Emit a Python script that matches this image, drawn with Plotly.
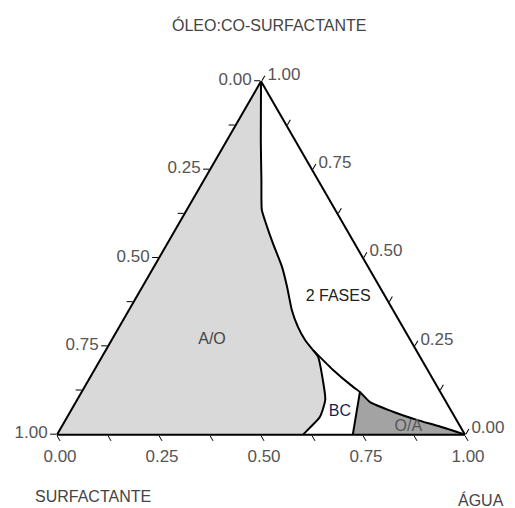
import plotly.graph_objects as go

# Ternary values: a = ÓLEO:CO-SURFACTANTE (top), c = ÁGUA (bottom-right), b = SURFACTANTE (bottom-left)
# Boundary of the 2-phase region (from apex down to the junction point)
main_a = [1.000, 0.833, 0.720, 0.636, 0.607, 0.542, 0.475, 0.418, 0.353, 0.305, 0.268, 0.240]
main_c = [0.000, 0.083, 0.141, 0.184, 0.206, 0.258, 0.314, 0.355, 0.399, 0.438, 0.474, 0.507]

# Lower boundary of 2-phase region (junction -> water corner)
low_a = [0.240, 0.184, 0.136, 0.121, 0.093, 0.065, 0.042, 0.023, 0.000]
low_c = [0.507, 0.584, 0.657, 0.682, 0.720, 0.791, 0.861, 0.927, 1.000]

# Boundary between A/O and BC (junction -> base)
bc_a = [0.240, 0.220, 0.155, 0.099, 0.051, 0.020, 0.000]
bc_c = [0.507, 0.530, 0.574, 0.608, 0.619, 0.610, 0.603]

# Boundary between BC and O/A
oa_a = [0.121, 0.000]
oa_c = [0.682, 0.725]

# Region labels
lab_text = ["A/O", "2 FASES", "BC", "O/A"]
lab_a = [0.268, 0.390, 0.065, 0.022]
lab_c = [0.246, 0.494, 0.661, 0.850]

tick_vals = [0, 0.125, 0.25, 0.375, 0.5, 0.625, 0.75, 0.875, 1.0]
tick_text = ["1.00", "", "0.75", "", "0.50", "", "0.25", "", "0.00"]

FONT = "Liberation Sans, Arial"


def bvals(a, c):
    return [round(1 - x - y, 4) for x, y in zip(a, c)]


fig = go.Figure()

# A/O region (light grey)
ao_a = main_a + bc_a[1:] + [0.0, 1.0]
ao_c = main_c + bc_c[1:] + [0.0, 0.0]
fig.add_trace(go.Scatterternary(a=ao_a, b=bvals(ao_a, ao_c), c=ao_c, mode="lines",
                                fill="toself", fillcolor="#d9d9d9",
                                line=dict(width=0, color="#d9d9d9"), hoverinfo="skip"))

# O/A region (dark grey)
oar_a = low_a[3:] + [oa_a[1], oa_a[0]]
oar_c = low_c[3:] + [oa_c[1], oa_c[0]]
fig.add_trace(go.Scatterternary(a=oar_a, b=bvals(oar_a, oar_c), c=oar_c, mode="lines",
                                fill="toself", fillcolor="#a3a3a3",
                                line=dict(width=0, color="#a3a3a3"), hoverinfo="skip"))

# Boundary lines
for aa, cc in [(main_a, main_c), (low_a, low_c), (bc_a, bc_c), (oa_a, oa_c)]:
    fig.add_trace(go.Scatterternary(a=aa, b=bvals(aa, cc), c=cc, mode="lines",
                                    line=dict(color="black", width=2, shape="spline", smoothing=0.6),
                                    hoverinfo="skip"))

# Region labels
fig.add_trace(go.Scatterternary(a=lab_a, b=bvals(lab_a, lab_c), c=lab_c, mode="text",
                                text=lab_text,
                                textfont=dict(family=FONT, size=16,
                                              color=["#444444", "#222222", "#1e1e4a", "#555555"]),
                                hoverinfo="skip"))

axis_common = dict(
    title=dict(text=""),
    tickmode="array", tickvals=tick_vals, ticktext=tick_text,
    ticks="outside", ticklen=6, tickwidth=1.2, tickcolor="black",
    showline=True, linecolor="black", linewidth=2,
    showgrid=False,
    tickfont=dict(family=FONT, size=17, color="#555555"),
    min=0,
)

title_font = dict(family=FONT, size=16, color="#444444")

fig.update_layout(
    width=515, height=508,
    margin=dict(l=57, r=50, t=81, b=73),
    paper_bgcolor="white",
    showlegend=False,
    ternary=dict(
        sum=1,
        bgcolor="white",
        aaxis=axis_common,
        baxis=axis_common,
        caxis=axis_common,
    ),
    annotations=[
        dict(text="ÓLEO:CO-SURFACTANTE", x=0.52, y=1.157, xref="paper", yref="paper",
             xanchor="center", yanchor="middle", showarrow=False, font=title_font),
        dict(text="SURFACTANTE", x=0.088, y=-0.175, xref="paper", yref="paper",
             xanchor="center", yanchor="middle", showarrow=False, font=title_font),
        dict(text="ÁGUA", x=1.039, y=-0.184, xref="paper", yref="paper",
             xanchor="center", yanchor="middle", showarrow=False, font=title_font),
    ],
)

fig.write_html("out.html")
